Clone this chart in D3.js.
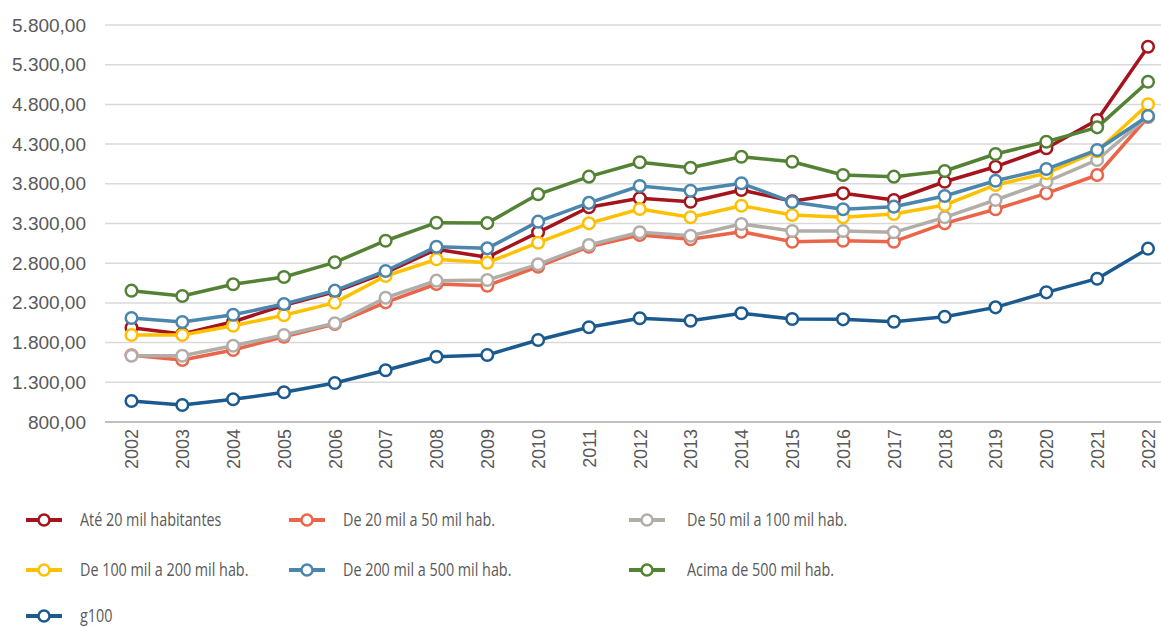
<!DOCTYPE html>
<html lang="pt">
<head>
    <meta charset="UTF-8">
    <script src="https://d3js.org/d3.v7.min.js"></script>
    <style>
        body { margin: 0; background: #fff; font-family: "Open Sans", sans-serif; }
        svg text { fill: #595959; }
    </style>
</head>
<body>
    <svg id="chart" width="1161" height="627"></svg>
    <script>
        const years = ["2002","2003","2004","2005","2006","2007","2008","2009","2010","2011",
                       "2012","2013","2014","2015","2016","2017","2018","2019","2020","2021","2022"];

        const ate20 = [1988, 1908, 2063, 2270, 2440, 2680, 2975, 2874, 3189, 3504, 3617, 3574, 3722, 3580, 3680, 3596, 3826, 4015, 4247, 4603, 5527];
        const de20a50 = [1640, 1581, 1707, 1874, 2034, 2307, 2538, 2517, 2756, 3008, 3155, 3101, 3197, 3071, 3083, 3071, 3302, 3479, 3680, 3911, 4641];
        const de50a100 = [1635, 1635, 1761, 1896, 2043, 2365, 2580, 2588, 2786, 3029, 3189, 3146, 3294, 3205, 3205, 3189, 3378, 3596, 3826, 4100, 4650];
        const de100a200 = [1896, 1896, 2013, 2144, 2303, 2639, 2849, 2806, 3058, 3302, 3483, 3378, 3524, 3407, 3378, 3420, 3533, 3785, 3932, 4210, 4801];
        const de200a500 = [2110, 2060, 2150, 2286, 2454, 2702, 3008, 2987, 3323, 3560, 3772, 3713, 3806, 3570, 3479, 3512, 3646, 3839, 3986, 4226, 4654];
        const acima500 = [2454, 2387, 2534, 2626, 2811, 3083, 3310, 3305, 3668, 3890, 4071, 4003, 4141, 4078, 3911, 3890, 3961, 4175, 4330, 4511, 5086];
        const g100 = [1064, 1014, 1086, 1174, 1291, 1451, 1622, 1644, 1833, 1993, 2106, 2076, 2169, 2097, 2093, 2063, 2126, 2244, 2433, 2605, 2983];

        const seriesNames = ["Até 20 mil habitantes", "De 20 mil a 50 mil hab.", "De 50 mil a 100 mil hab.",
                             "De 100 mil a 200 mil hab.", "De 200 mil a 500 mil hab.", "Acima de 500 mil hab.", "g100"];
        const seriesValues = [ate20, de20a50, de50a100, de100a200, de200a500, acima500, g100];
        const seriesColors = ["#a5141d", "#ea6549", "#b1ada8", "#ffc000", "#4a86ad", "#548235", "#1b5a8e"];

        const yTicks = [800, 1300, 1800, 2300, 2800, 3300, 3800, 4300, 4800, 5300, 5800];

        const series = seriesNames.map((name, i) => ({
            name,
            color: seriesColors[i],
            values: seriesValues[i].map((v, j) => ({ year: years[j], value: v }))
        }));

        const svg = d3.select("#chart");

        const x = d3.scalePoint()
            .domain(years)
            .range([131.5, 1148]);

        const y = d3.scaleLinear()
            .domain([800, 5800])
            .range([422, 25]);

        const fmt = d3.formatLocale({ decimal: ",", thousands: ".", grouping: [3], currency: ["R$", ""] }).format(",.2f");

        // linhas de grade
        svg.append("g")
            .selectAll("line")
            .data(yTicks.slice(1))
            .enter().append("line")
            .attr("x1", 105).attr("x2", 1161)
            .attr("y1", d => y(d)).attr("y2", d => y(d))
            .attr("stroke", "#d9d9d9")
            .attr("stroke-width", 1.5);

        // eixo y
        const yAxis = svg.append("g")
            .attr("transform", "translate(96,0)")
            .call(d3.axisLeft(y).tickValues(yTicks).tickFormat(fmt).tickSize(0).tickPadding(10));
        yAxis.select(".domain").remove();
        yAxis.selectAll("text")
            .style("font-size", "19px")
            .style("font-family", "inherit")
            .attr("fill", "#595959");

        // eixo x
        const xAxis = svg.append("g")
            .attr("transform", `translate(0,${y(800)})`)
            .call(d3.axisBottom(x).tickSize(0).tickPadding(0));
        xAxis.select(".domain")
            .attr("d", "M105,0H1161")
            .attr("stroke", "#bfbfbf")
            .attr("stroke-width", 1.8);
        xAxis.selectAll("text")
            .attr("transform", "rotate(-90)")
            .attr("x", -7)
            .attr("y", 0)
            .attr("dy", "0.35em")
            .attr("text-anchor", "end")
            .style("font-size", "18px")
            .style("font-family", "inherit")
            .attr("fill", "#595959");

        const line = d3.line()
            .x(d => x(d.year))
            .y(d => y(d.value));

        series.forEach(s => {
            const g = svg.append("g");
            g.append("path")
                .datum(s.values)
                .attr("fill", "none")
                .attr("stroke", s.color)
                .attr("stroke-width", 3.5)
                .attr("stroke-linejoin", "round")
                .attr("d", line);
            g.selectAll("circle")
                .data(s.values)
                .enter().append("circle")
                .attr("cx", d => x(d.year))
                .attr("cy", d => y(d.value))
                .attr("r", 5.8)
                .attr("fill", "#fff")
                .attr("stroke", s.color)
                .attr("stroke-width", 2.5);
        });

        // legenda
        const legendCols = [26, 289, 629];
        const legendRows = [520, 570, 616];
        const legend = svg.append("g");

        series.forEach((s, i) => {
            const col = i % 3;
            const row = legend.append("g")
                .attr("transform", `translate(${legendCols[col]},${legendRows[Math.floor(i / 3)]})`);
            row.append("line")
                .attr("x1", 0).attr("x2", 36)
                .attr("stroke", s.color)
                .attr("stroke-width", 4);
            row.append("circle")
                .attr("cx", 18)
                .attr("r", 5.5)
                .attr("fill", "#fff")
                .attr("stroke", s.color)
                .attr("stroke-width", 2.5);
            row.append("text")
                .attr("transform", `translate(${col === 2 ? 58 : 54},0) scale(0.82,1)`)
                .attr("dy", "0.35em")
                .style("font-size", "17.5px")
                .text(s.name);
        });
    </script>
</body>
</html>
